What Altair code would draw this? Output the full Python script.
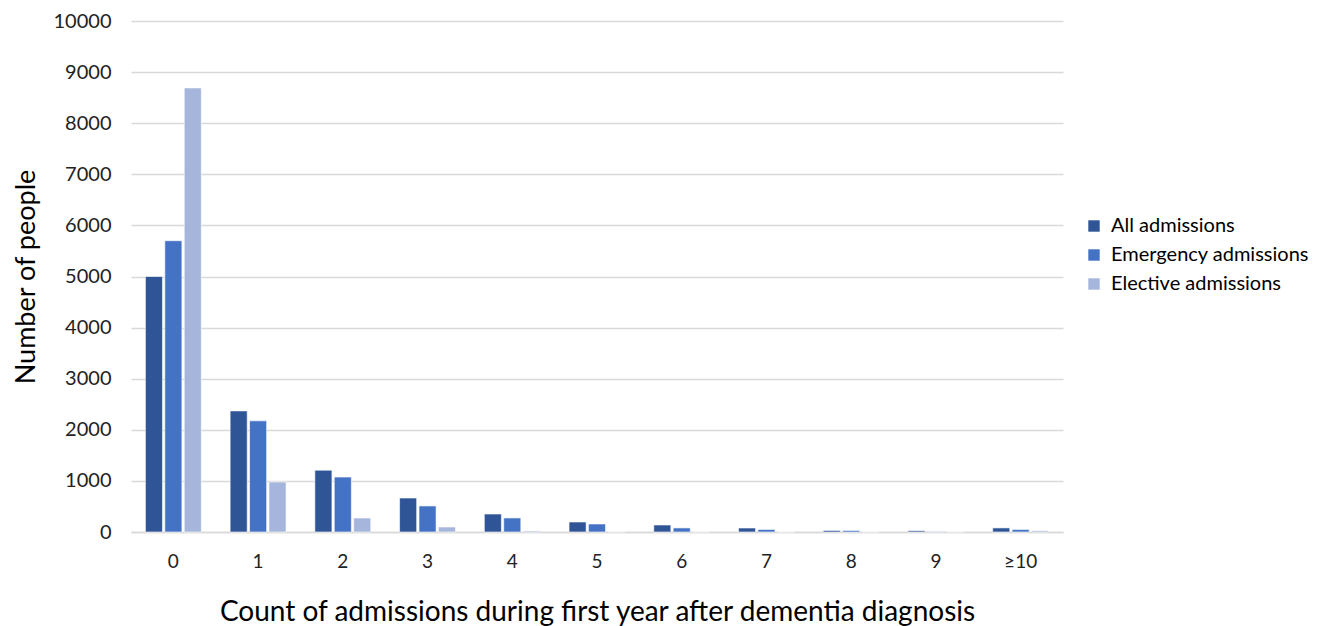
import altair as alt
import pandas as pd

categories = ["0", "1", "2", "3", "4", "5", "6", "7", "8", "9", "≥10"]
all_adm = [5000, 2370, 1210, 665, 352, 196, 137, 78, 30, 25, 80]
emergency = [5700, 2175, 1075, 510, 275, 157, 80, 50, 30, 10, 50]
elective = [8690, 978, 274, 98, 20, 5, 3, 2, 2, 2, 25]
series = ["All admissions", "Emergency admissions", "Elective admissions"]
colors = ["#2F5597", "#4472C4", "#A6B5DB"]

rows = []
for i, c in enumerate(categories):
    for s, vals in zip(series, [all_adm, emergency, elective]):
        rows.append({"cat": c, "series": s, "value": vals[i]})
df = pd.DataFrame(rows)

font = "Lato"

chart = alt.Chart(df).mark_bar(stroke="white", strokeWidth=0.6).encode(
    x=alt.X("cat:N", sort=categories,
            scale=alt.Scale(paddingInner=0.34, paddingOuter=0.17),
            axis=alt.Axis(title="Count of admissions during first year after dementia diagnosis",
                          labelAngle=0, labelFontSize=19, labelPadding=20,
                          titleFontSize=28, titlePadding=27, titleFontWeight="normal",
                          ticks=False, domainColor="#D9D9D9", domainWidth=1.5,
                          labelColor="#222222", titleColor="#000000")),
    xOffset=alt.XOffset("series:N", sort=series, scale=alt.Scale(paddingInner=0.12)),
    y=alt.Y("value:Q", scale=alt.Scale(domain=[0, 10000]),
            axis=alt.Axis(title="Number of people", values=list(range(0, 10001, 1000)),
                          format="d",
                          labelFontSize=20, labelPadding=20, ticks=False, domain=False,
                          gridColor="#D9D9D9", gridWidth=1.5,
                          titleFontSize=27, titlePadding=13, titleFontWeight="normal",
                          labelColor="#222222", titleColor="#000000")),
    color=alt.Color("series:N", sort=series,
                    scale=alt.Scale(domain=series, range=colors),
                    legend=alt.Legend(title=None, orient="none", legendX=953, legendY=195,
                                      symbolType="square", symbolSize=130, symbolStrokeWidth=0,
                                      labelFontSize=20, rowPadding=9, labelOffset=7,
                                      labelLimit=300,
                                      labelColor="#000000")),
).properties(
    width=932, height=511,
    autosize=alt.AutoSizeParams(type="none"),
    padding={"left": 123, "top": 13, "right": 247, "bottom": 94},
).configure(font=font).configure_view(stroke=None)

chart.save("out.html", embed_options={"renderer": "svg", "actions": False})
